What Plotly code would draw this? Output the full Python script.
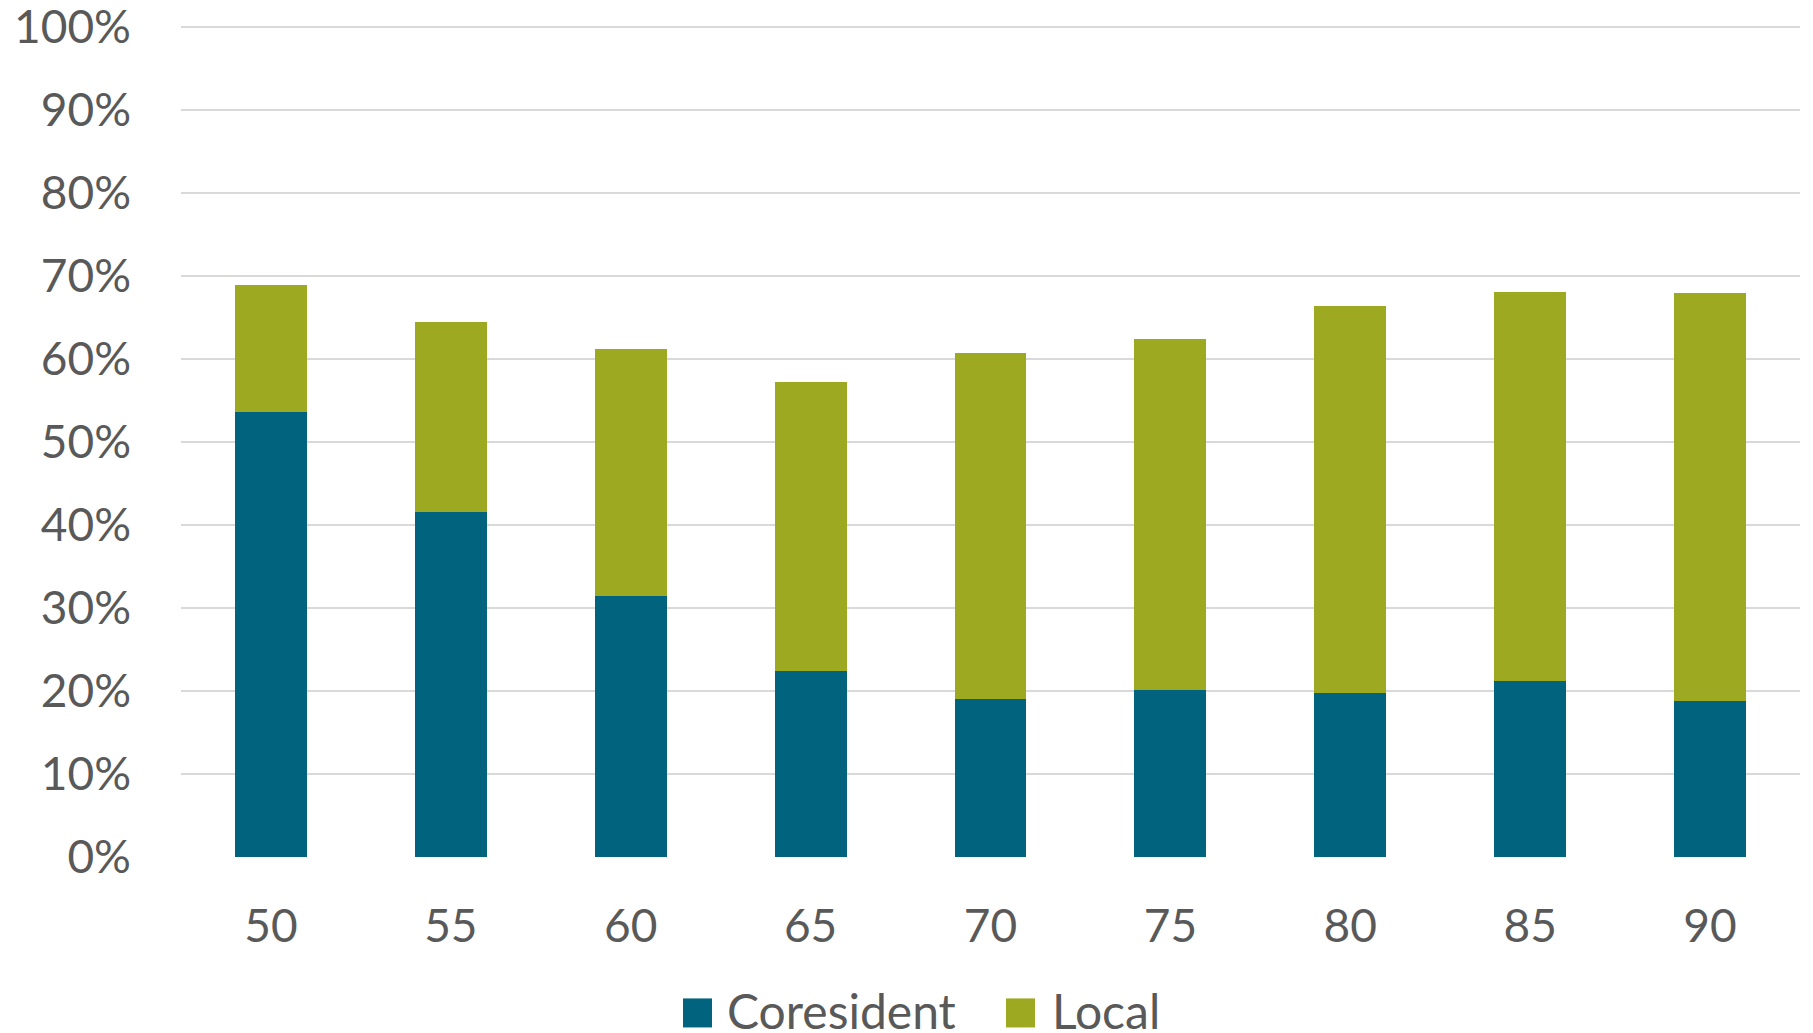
import plotly.graph_objects as go

categories = ["50", "55", "60", "65", "70", "75", "80", "85", "90"]
coresident = [0.536, 0.416, 0.315, 0.224, 0.190, 0.201, 0.198, 0.212, 0.188]
local = [0.153, 0.229, 0.297, 0.349, 0.417, 0.423, 0.466, 0.469, 0.492]
series_names = ["Coresident", "Local"]
series_colors = ["#02637F", "#9DA921"]
y_ticks = [0, 0.1, 0.2, 0.3, 0.4, 0.5, 0.6, 0.7, 0.8, 0.9, 1.0]
y_tick_labels = ["0%", "10%", "20%", "30%", "40%", "50%", "60%", "70%", "80%", "90%", "100%"]

FONT = "Lato"
TXT = "#595959"

# page offset of the figure div (default body margin)
OFF = 8
# target plot area in page pixels
PL, PR, PT, PB = 181, 1800, 27.7, 856.7
YMAX = 1.01
PT_EXT = PB - (PB - PT) * YMAX  # top of plot area including headroom
PW = PR - PL
PH = PB - PT_EXT

fig = go.Figure()
for name, vals, col in zip(series_names, [coresident, local], series_colors):
    fig.add_trace(go.Bar(x=categories, y=vals, name=name, marker_color=col,
                         marker_line_width=0, showlegend=False))

# manual legend (square swatches + labels)
sw = 29
sw_center = 1012.5
txt_center = 1010
legend_items = [(683, 725), (1006, 1050)]
for (sx, tx), name, col in zip(legend_items, series_names, series_colors):
    fig.add_shape(type="rect", xref="paper", yref="paper",
                  x0=(sx - PL) / PW, x1=(sx + sw - PL) / PW,
                  y0=(PB - sw_center - sw / 2) / PH, y1=(PB - sw_center + sw / 2) / PH,
                  fillcolor=col, line_width=0)
    fig.add_annotation(xref="paper", yref="paper", x=(tx - PL) / PW,
                       y=(PB - txt_center) / PH,
                       text=name, showarrow=False, xanchor="left", yanchor="middle",
                       font=dict(family=FONT, size=48, color=TXT))

fig.update_layout(
    width=1813, height=1033,
    margin=dict(l=PL - OFF, r=1813 - (PR - OFF), t=PT_EXT - OFF, b=1033 - (PB - OFF),
                autoexpand=False),
    barmode="stack", bargap=0.6,
    plot_bgcolor="white", paper_bgcolor="white",
    font=dict(family=FONT, size=46, color=TXT),
)
fig.update_yaxes(range=[0, YMAX], tickvals=y_ticks, ticktext=y_tick_labels,
                 showgrid=True, gridcolor="#D9D9D9", gridwidth=1.5,
                 zeroline=False, showline=False, ticklabelstandoff=49,
                 ticklabeloverflow="allow",
                 tickfont=dict(family=FONT, size=46, color=TXT))
fig.update_xaxes(showgrid=False, showline=False, zeroline=False, ticklabelstandoff=38,
                 ticklabeloverflow="allow",
                 tickfont=dict(family=FONT, size=46, color=TXT))

fig.write_html("out.html")
